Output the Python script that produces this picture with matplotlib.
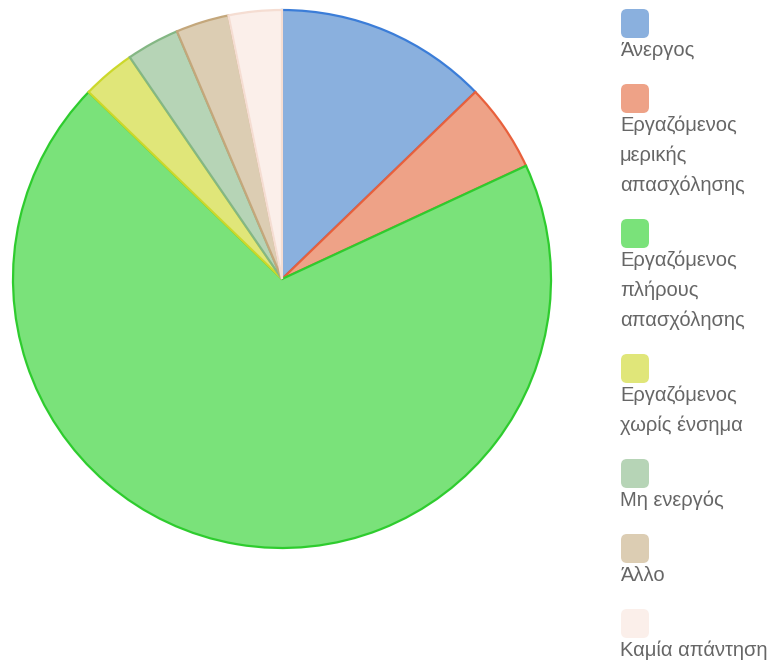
import matplotlib
matplotlib.use("Agg")
import matplotlib.pyplot as plt
from matplotlib.patches import FancyBboxPatch

labels = ["Άνεργος",
          "Εργαζόμενος\nμερικής\nαπασχόλησης",
          "Εργαζόμενος\nπλήρους\nαπασχόλησης",
          "Εργαζόμενος\nχωρίς ένσημα",
          "Μη ενεργός",
          "Άλλο",
          "Καμία απάντηση"]
counts = [12, 5, 65, 3, 3, 3, 3]
fill_colors = ["#8AB0DE", "#EEA287", "#7AE27A", "#E0E679", "#B6D4B6", "#DCCDB3", "#FBEFEA"]
edge_colors = ["#3B7DD8", "#E8603C", "#2ECC2E", "#CCD82B", "#84B784", "#C4A77B", "#F5DDD2"]

W, H = 775, 666
fig = plt.figure(figsize=(W / 100, H / 100), dpi=100)
ax = fig.add_axes([0, 0, 1, 1])

# pie, drawn in pixel coordinates (y measured from the bottom)
cx, cy, r = 282, H - 279, 269
wedges, _ = ax.pie(counts, colors=fill_colors, startangle=90, counterclock=False,
                   center=(cx, cy), radius=r, frame=True)
for w, ec in zip(wedges, edge_colors):
    w.set_edgecolor(ec)
    w.set_linewidth(1.6)
ax.set_xlim(0, W)
ax.set_ylim(0, H)
ax.set_aspect("equal")
ax.axis("off")

# legend: rounded square with the label under it
top = 9
for lab, fc in zip(labels, fill_colors):
    lines = lab.split("\n")
    ax.add_patch(FancyBboxPatch((621, H - top - 29), 28, 29,
                                boxstyle="round,pad=0,rounding_size=6",
                                facecolor=fc, edgecolor="none"))
    for i, line in enumerate(lines):
        ax.text(620, H - (top + 47 + 30 * i), line, fontsize=14.5,
                family="Liberation Sans", color="#666666", va="baseline", ha="left")
    top += 45 + 30 * len(lines)

fig.savefig("out.png", dpi=100)
